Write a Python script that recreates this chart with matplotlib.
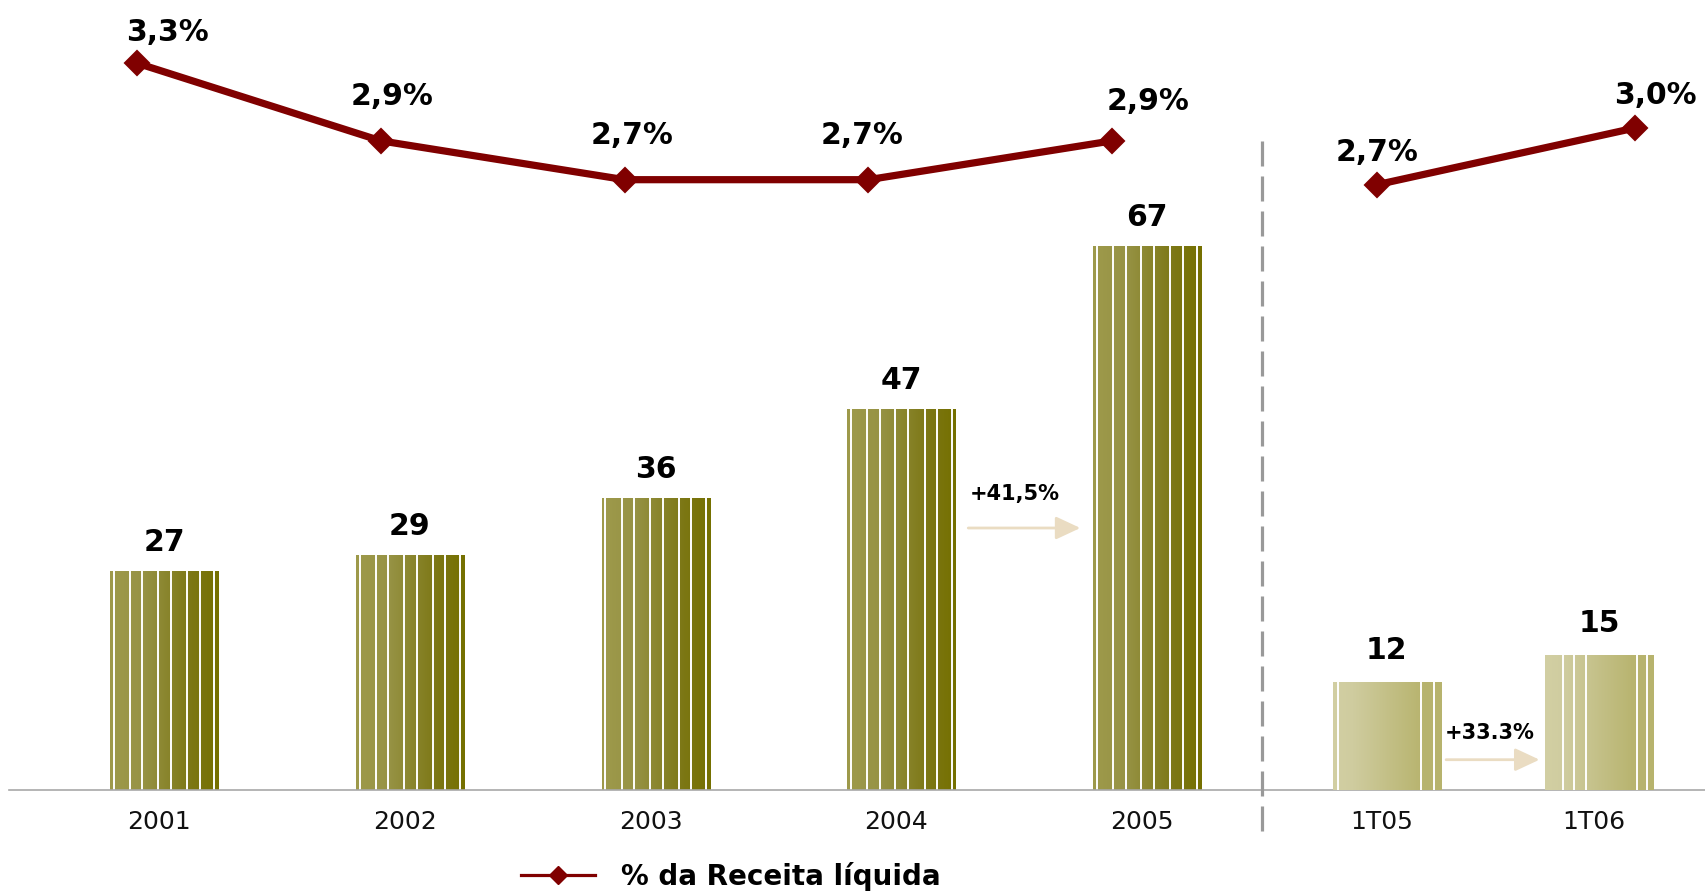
import numpy as np
import matplotlib
matplotlib.use('Agg')
import matplotlib.pyplot as plt
from matplotlib.colors import LinearSegmentedColormap
from matplotlib.lines import Line2D
import matplotlib.transforms as mtransforms

plt.rcParams['font.family'] = ['DejaVu Sans']
plt.rcParams['lines.scale_dashes'] = False

# ---------------- data ----------------
annual_labels = ['2001', '2002', '2003', '2004', '2005']
annual_values = [27, 29, 36, 47, 67]
annual_pct = [3.3, 2.9, 2.7, 2.7, 2.9]
annual_pct_text = ['3,3%', '2,9%', '2,7%', '2,7%', '2,9%']

quarter_labels = ['1T05', '1T06']
quarter_values = [12, 15]
quarter_pct = [2.7, 3.0]
quarter_pct_text = ['2,7%', '3,0%']

growth_annual = '+41,5%'
growth_quarter = '+33.3%'
legend_label = '% da Receita líquida'

# ---------------- layout ----------------
W, H = 1705, 895
fig = plt.figure(figsize=(W / 100, H / 100), dpi=100)

BASE = 791          # baseline pixel (from top)
X0, DX = 164, 245.8  # first bar center, spacing (px)
annual_pos = np.arange(len(annual_values))
quarter_pos = np.array([4.974, 5.838])
bar_w = 0.44

maroon = '#800000'
cmap_dark = LinearSegmentedColormap.from_list(
    'dark', [(0, '#9E9A4B'), (0.3, '#979345'), (0.75, '#7C7714'), (1, '#757000')])
cmap_light = LinearSegmentedColormap.from_list(
    'light', [(0, '#D2CFA3'), (0.18, '#CFCC9F'), (0.82, '#B8B46F'), (1, '#B7B36D')])

# bar axes (annual)
ax_b = fig.add_axes([0, 1 - BASE / H, 1, BASE / H])
xlim_b = (-X0 / DX, (W - X0) / DX)
ylim_b = (0, BASE / 8.115)
# bar axes (quarter) - own vertical scale
ax_q = fig.add_axes([0, 1 - BASE / H, 1, BASE / H], sharex=ax_b)
ylim_q = (0, BASE / 9.008)
for a in (ax_b, ax_q):
    a.patch.set_visible(False)
    for s in a.spines.values():
        s.set_visible(False)
    a.set_yticks([])
ax_q.tick_params(bottom=False, labelbottom=False)


def gradient_bars(ax, positions, values, cmap, stripes_list, z=2):
    bars = ax.bar(positions, values, width=bar_w, color='none',
                  edgecolor='none', zorder=z)
    grad = np.linspace(0, 1, 256).reshape(1, -1)
    for patch, fracs in zip(bars.patches, stripes_list):
        x, y = patch.get_x(), patch.get_y()
        w, h = patch.get_width(), patch.get_height()
        im = ax.imshow(grad, cmap=cmap, extent=[x, x + w, y, y + h],
                       aspect='auto', zorder=z, interpolation='bilinear',
                       origin='lower')
        im.set_clip_path(patch)
        ax.vlines([x + f * w for f in fracs], y, y + h, colors='white',
                  lw=1.4, zorder=z + 0.1)
    return bars


annual_stripes = [[0.035, 0.185, 0.30, 0.445, 0.565, 0.715, 0.83, 0.965]] * 5
quarter_stripes = [[0.05, 0.82, 0.935], [0.17, 0.27, 0.38, 0.85, 0.94]]

bars_a = gradient_bars(ax_b, annual_pos, annual_values, cmap_dark, annual_stripes)
bars_q = gradient_bars(ax_q, quarter_pos, quarter_values, cmap_light, quarter_stripes)

ax_b.set_xlim(*xlim_b)
ax_b.set_ylim(*ylim_b)
ax_q.set_ylim(*ylim_q)

# value labels
for p, v in zip(annual_pos, annual_values):
    ax_b.annotate(str(v), xy=(p, v), xytext=(0, 21), textcoords='offset pixels',
                  ha='center', va='baseline', fontsize=21.5, fontweight='bold')
for p, v in zip(quarter_pos, quarter_values):
    ax_q.annotate(str(v), xy=(p, v), xytext=(0, 24), textcoords='offset pixels',
                  ha='center', va='baseline', fontsize=21.5, fontweight='bold')

# baseline
ax_b.axhline(0, xmin=9 / W, xmax=1, color='#A8A8A8', lw=1.2, clip_on=False, zorder=5)

# x tick labels
ax_b.set_xticks(list(annual_pos) + list(quarter_pos),
                annual_labels + quarter_labels)
ax_b.tick_params(axis='x', length=0, pad=14, labelsize=18, labelcolor='#111111')
offset = mtransforms.ScaledTranslation(-5 / 100, 0, fig.dpi_scale_trans)
for lab in ax_b.get_xticklabels():
    lab.set_transform(lab.get_transform() + offset)

# growth arrows
arrow_kw = dict(arrowstyle='-|>,head_length=1.5,head_width=0.7', color='#EADCC2',
                lw=2, shrinkA=0, shrinkB=0)
mid_a = (annual_pos[3] + annual_pos[4]) / 2
ya = (BASE - 529) / 8.115
ax_b.annotate('', xy=(mid_a + 0.228, ya), xytext=(mid_a - 0.228, ya), arrowprops=arrow_kw)
ax_b.annotate(growth_annual, xy=(mid_a, ya), xytext=(-10, 29), textcoords='offset pixels',
              ha='center', va='baseline', fontsize=15, fontweight='bold')
mid_q = (quarter_pos[0] + quarter_pos[1]) / 2
yq = (BASE - 760.7) / 9.008
ax_q.annotate('', xy=(mid_q + 0.19, yq), xytext=(mid_q - 0.19, yq), arrowprops=arrow_kw)
ax_q.annotate(growth_quarter, xy=(mid_q, yq), xytext=(-3, 22), textcoords='offset pixels',
              ha='center', va='baseline', fontsize=15, fontweight='bold')

# percentage lines
ax_l = fig.add_axes([0, 0, 1, 1])
ax_l.set_axis_off()
ax_l.patch.set_visible(False)
L0, LDX = 137, 243.8
ax_l.set_xlim(-L0 / LDX, (W - L0) / LDX)
ax_l.set_ylim(2.9 - (H - 141.84) / 194.2, 2.9 + 141.84 / 194.2)
line_kw = dict(color=maroon, lw=5.2, marker='D', ms=12.5, mec=maroon, mew=1.5,
               solid_joinstyle='round', solid_capstyle='round', zorder=6)
ax_l.plot(np.arange(len(annual_pct)), annual_pct, **line_kw)
annual_lab_off = [(30, 23), (11, 37), (7, 37), (-6, 37), (36, 32)]
for i, (v, t) in enumerate(zip(annual_pct, annual_pct_text)):
    ax_l.annotate(t, xy=(i, v), xytext=annual_lab_off[i], textcoords='offset pixels',
                  ha='center', va='baseline', fontsize=21.5, fontweight='bold')

ax_r = fig.add_axes([0, 0, 1, 1])
ax_r.set_axis_off()
ax_r.patch.set_visible(False)
R0, RDX = 1377, 258
ax_r.set_xlim(-R0 / RDX, (W - R0) / RDX)
ax_r.set_ylim(2.7 - (H - 185.7) / 189, 2.7 + 185.7 / 189)
ax_r.plot(np.arange(len(quarter_pct)), quarter_pct, **line_kw)
quarter_lab_off = [(0, 25), (20, 25)]
for i, (v, t) in enumerate(zip(quarter_pct, quarter_pct_text)):
    ax_r.annotate(t, xy=(i, v), xytext=quarter_lab_off[i], textcoords='offset pixels',
                  ha='center', va='baseline', fontsize=21.5, fontweight='bold')

# separator
sep = Line2D([1262 / W, 1262 / W], [1 - 142 / H, 1 - 838 / H], transform=fig.transFigure,
             color='#999999', lw=2.3, dashes=(18, 7.2))
fig.add_artist(sep)

# legend
handle = Line2D([], [], color=maroon, lw=2.3, marker='D', ms=9, mec=maroon)
fig.legend(handles=[handle], labels=[legend_label], loc='center left',
           bbox_to_anchor=(521 / W, 1 - 877 / H), frameon=False, borderpad=0,
           borderaxespad=0, handlelength=2.65, handletextpad=0.95,
           prop=dict(size=20, weight='bold'))

fig.savefig('out.png', dpi=100)
